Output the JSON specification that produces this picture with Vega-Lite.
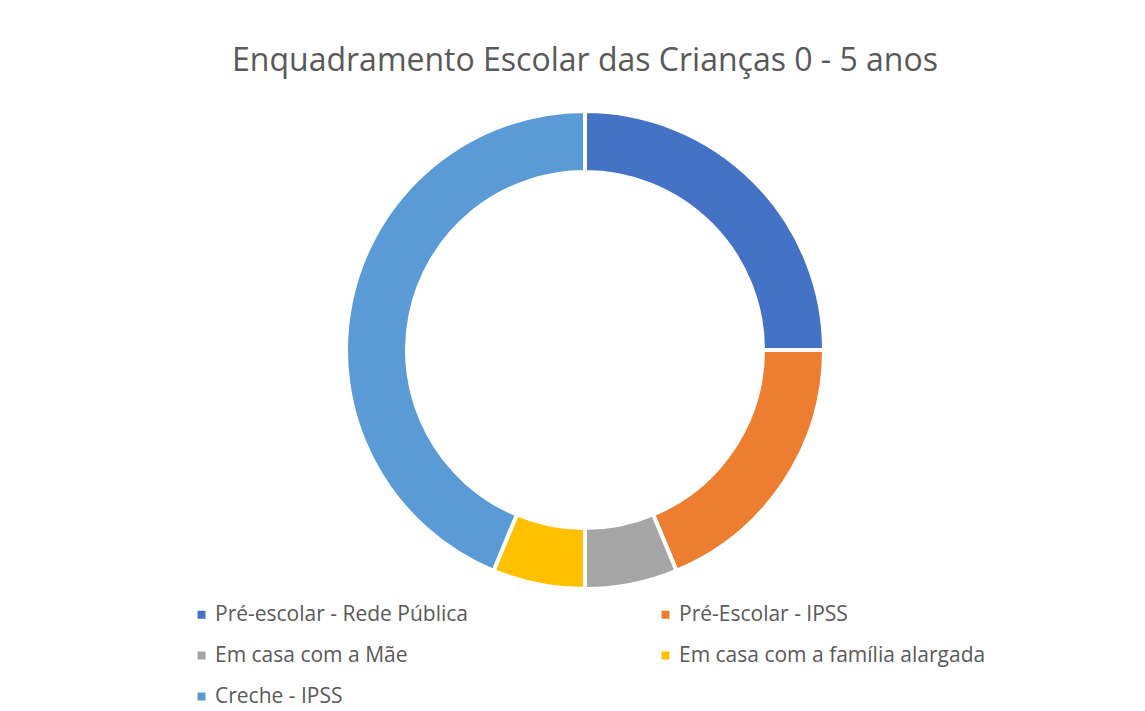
{
  "$schema": "https://vega.github.io/schema/vega-lite/v6.json",
  "autosize": "none",
  "width": 1120,
  "height": 500,
  "padding": {"left": 25, "top": 100, "right": 0, "bottom": 111},
  "background": "white",
  "title": {
    "text": "Enquadramento Escolar das Crianças 0 - 5 anos",
    "font": "Open Sans",
    "fontSize": 32,
    "fontWeight": "normal",
    "color": "#595959",
    "anchor": "middle",
    "offset": 22
  },
  "data": {
    "values": [
      {"categoria": "Pré-escolar - Rede Pública", "valor": 4, "ordem": 1},
      {"categoria": "Pré-Escolar - IPSS", "valor": 3, "ordem": 2},
      {"categoria": "Em casa com a Mãe", "valor": 1, "ordem": 3},
      {"categoria": "Em casa com a família alargada", "valor": 1, "ordem": 4},
      {"categoria": "Creche - IPSS", "valor": 7, "ordem": 5}
    ]
  },
  "mark": {"type": "arc", "outerRadius": 239, "innerRadius": 178, "stroke": "white", "strokeWidth": 4},
  "encoding": {
    "theta": {"field": "valor", "type": "quantitative", "stack": true},
    "order": {"field": "ordem", "type": "quantitative"},
    "color": {
      "field": "categoria",
      "type": "nominal",
      "scale": {
        "domain": ["Pré-escolar - Rede Pública", "Pré-Escolar - IPSS", "Em casa com a Mãe", "Em casa com a família alargada", "Creche - IPSS"],
        "range": ["#4472C4", "#ED7D31", "#A5A5A5", "#FFC000", "#5B9BD5"]
      },
      "legend": {
        "orient": "none",
        "legendX": 166,
        "legendY": 504,
        "direction": "horizontal",
        "columns": 2,
        "columnPadding": 186,
        "rowPadding": 19,
        "title": null,
        "symbolType": "square",
        "symbolSize": 64,
        "symbolStrokeWidth": 0,
        "labelFont": "Open Sans",
        "labelFontSize": 21,
        "labelColor": "#595959",
        "labelOffset": 3,
        "labelLimit": 400,
        "padding": 0
      }
    }
  },
  "config": {"view": {"stroke": null}}
}
